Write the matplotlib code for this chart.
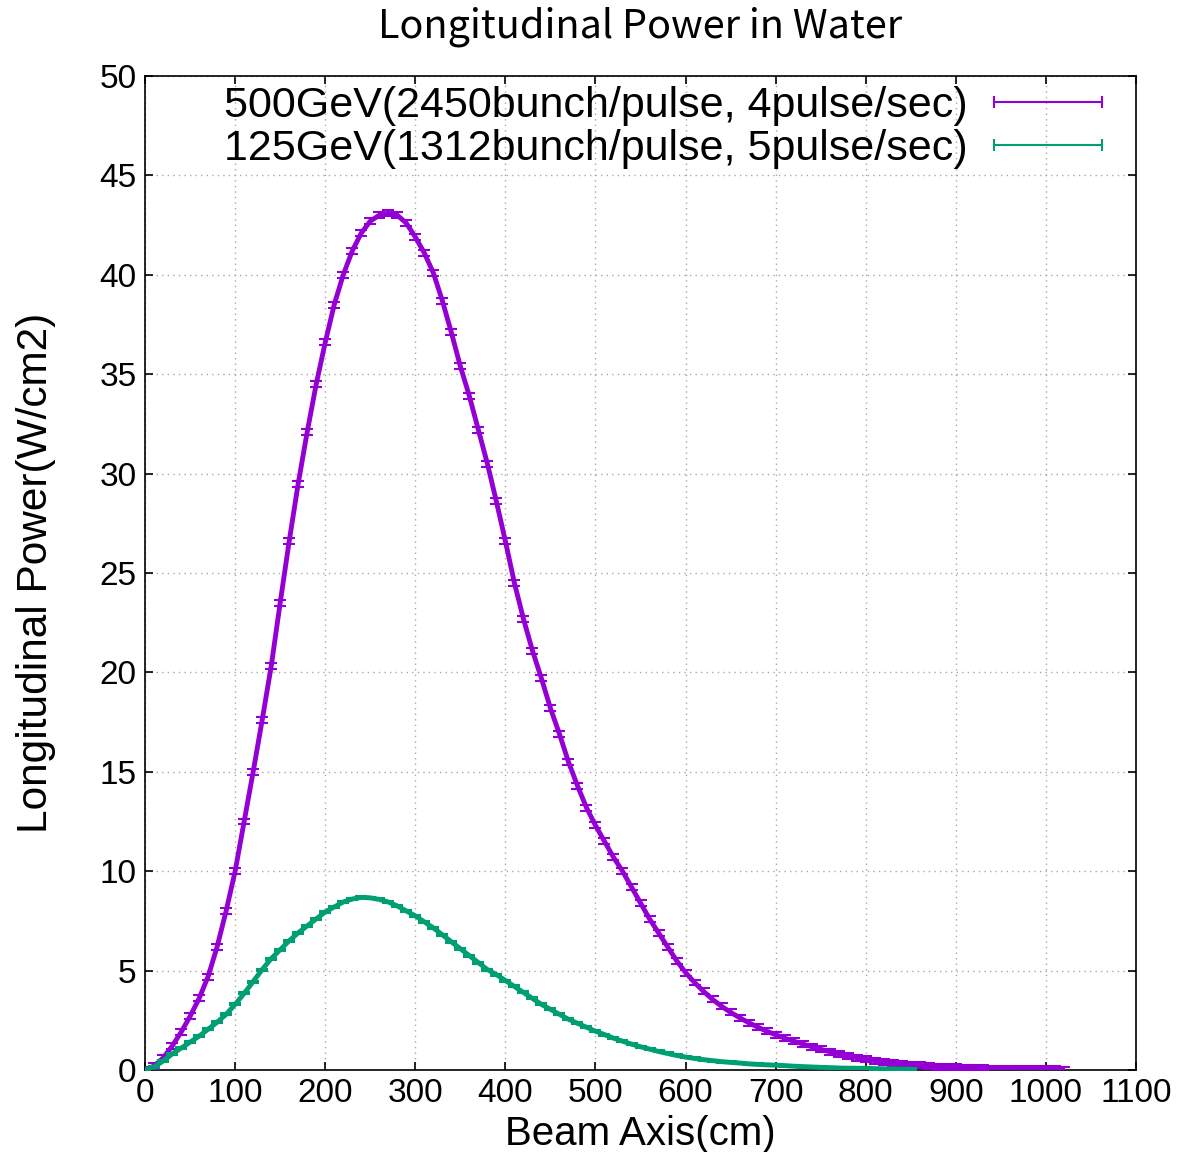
import matplotlib.pyplot as plt
from matplotlib.lines import Line2D

# beam axis positions (cm), every 10 cm
x_500 = list(range(0, 1030, 10))
p_500 = [
    0.0, 0.2, 0.6, 1.2, 1.9, 2.7, 3.6, 4.7, 6.2, 8.0,
    10.0, 12.5, 15.0, 17.6, 20.3, 23.5, 26.6, 29.5, 32.1, 34.5,
    36.6, 38.5, 40.0, 41.2, 42.1, 42.7, 43.0, 43.1, 43.0, 42.6,
    41.9, 41.1, 40.1, 38.7, 37.1, 35.4, 33.9, 32.2, 30.5, 28.6,
    26.6, 24.5, 22.7, 21.1, 19.7, 18.2, 16.9, 15.5, 14.3, 13.2,
    12.3, 11.5, 10.7, 10.0, 9.2, 8.4, 7.6, 6.9, 6.2, 5.5,
    4.9, 4.4, 3.95, 3.55, 3.2, 2.9, 2.63, 2.38, 2.16, 1.95,
    1.77, 1.6, 1.45, 1.31, 1.17, 1.04, 0.92, 0.81, 0.71, 0.62,
    0.54, 0.47, 0.41, 0.36, 0.31, 0.27, 0.23, 0.2, 0.17, 0.15,
    0.13, 0.11, 0.095, 0.08, 0.07, 0.06, 0.05, 0.045, 0.04, 0.035,
    0.03, 0.025, 0.02,
]
err_500 = 0.15

x_125 = list(range(0, 860, 10))
p_125 = [
    0.0, 0.15, 0.45, 0.8, 1.1, 1.4, 1.7, 2.05, 2.4, 2.8,
    3.3, 3.85, 4.45, 5.05, 5.6, 6.05, 6.5, 6.9, 7.25, 7.6,
    7.95, 8.2, 8.45, 8.6, 8.68, 8.66, 8.58, 8.45, 8.25, 8.0,
    7.75, 7.45, 7.15, 6.8, 6.45, 6.1, 5.75, 5.4, 5.05, 4.8,
    4.5, 4.2, 3.9, 3.6, 3.3, 3.05, 2.8, 2.55, 2.35, 2.15,
    1.95, 1.78, 1.6, 1.45, 1.3, 1.17, 1.05, 0.93, 0.83, 0.73,
    0.65, 0.58, 0.52, 0.47, 0.42, 0.38, 0.35, 0.31, 0.28, 0.26,
    0.24, 0.22, 0.19, 0.17, 0.15, 0.13, 0.12, 0.1, 0.09, 0.085,
    0.08, 0.07, 0.06, 0.05, 0.04, 0.03,
]
err_125 = 0.05

labels = [
    "500GeV(2450bunch/pulse, 4pulse/sec)",
    "125GeV(1312bunch/pulse, 5pulse/sec)",
]
colors = ["#9400d3", "#009e73"]
x_ticks = list(range(0, 1200, 100))
y_ticks = list(range(0, 55, 5))

plt.rcParams["font.family"] = ["Liberation Sans", "DejaVu Sans"]

fig = plt.figure(figsize=(11.89, 11.52), dpi=100)
ax = fig.add_axes([0.122, 0.0712, 0.8334, 0.8628])

for xs, ys, err, c in [(x_500, p_500, err_500, colors[0]),
                       (x_125, p_125, err_125, colors[1])]:
    ax.plot(xs, ys, color=c, linewidth=3.5, solid_capstyle="butt", zorder=3)
    ax.errorbar(xs, ys, yerr=err, fmt="none", ecolor=c, elinewidth=1.5,
                capsize=4, capthick=1.5, zorder=3)

ax.set_xlim(0, 1100)
ax.set_ylim(0, 50)
ax.set_xticks(x_ticks)
ax.set_yticks(y_ticks)
ax.tick_params(axis="both", direction="in", length=6, width=1.2,
               top=True, right=True, labelsize=24, pad=6)
ax.grid(True, color="#a8a8a8", linestyle=(0, (1, 3)), linewidth=1.0)
for s in ax.spines.values():
    s.set_linewidth(1.2)

ax.set_xlabel("Beam Axis(cm)", fontsize=29, labelpad=4)
ax.set_ylabel("Longitudinal Power(W/cm2)", fontsize=30.5, labelpad=31)
# title is centred over the plot box, not the figure
fig.text(640 / 1189, 1 - 27 / 1152, "Longitudinal Power in Water",
         ha="center", va="center", fontsize=28.5,
         family=["Noto Sans CJK JP", "DejaVu Sans"])

handles = [Line2D([], [], color=c, linewidth=1.5, marker="|", markersize=9,
                  markeredgewidth=1.5) for c in colors]
ax.legend(handles, labels, loc="upper right", frameon=False, fontsize=31,
          markerfirst=False, numpoints=2, handlelength=3.1, handletextpad=0.33,
          borderaxespad=0, borderpad=0, labelspacing=0.07,
          bbox_to_anchor=(0.9788, 1 - 10 / 994))

fig.savefig("out.png", dpi=100)
